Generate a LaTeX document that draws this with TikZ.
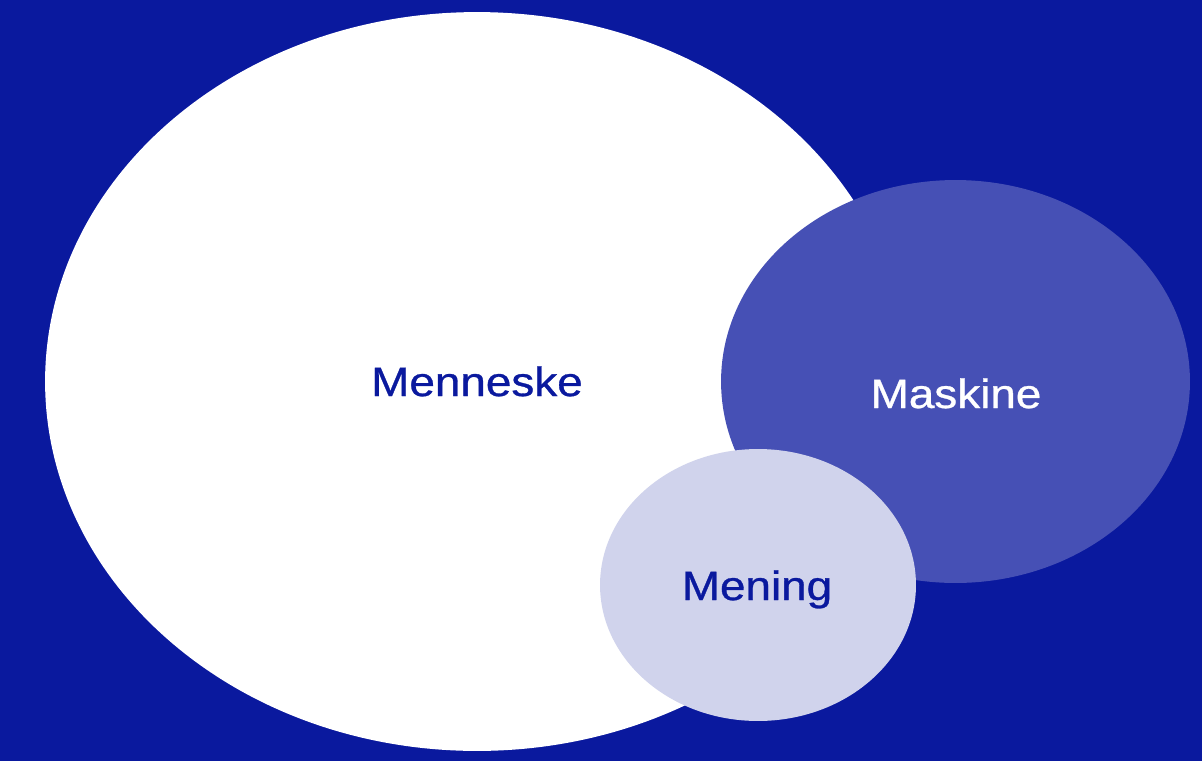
\documentclass[tikz,border=0pt]{standalone}
\usepackage{fontspec}
\setmainfont{Liberation Sans}
\newfontfamily\labelfont{Liberation Sans}[FakeBold=0.7]
\usetikzlibrary{shapes.geometric}
\definecolor{navy}{HTML}{0A199E}
\definecolor{midblue}{HTML}{4650B5}
\definecolor{paleblue}{HTML}{D0D3EC}
\newcommand{\wide}[1]{\scalebox{1.12}[1]{#1}}
\tikzset{%
  % Specifications for style of nodes:
            blob/.style = {ellipse, draw=none, inner sep=0pt, outer sep=0pt},
		humanstyle/.style = {blob, fill=white},
		machinestyle/.style = {blob, fill=midblue},
		meaningstyle/.style = {blob, fill=paleblue},
		word/.style = {anchor=base, inner sep=0pt,
                           font=\labelfont\fontsize{23.3}{27}\selectfont},
}
\begin{document}
\begin{tikzpicture}[x=0.02cm, y=-0.02cm]
  \useasboundingbox (0,0) rectangle (1202,761);
  \fill[navy] (0,0) rectangle (1202,761);
  % Specification of circles (position, size)
  \node (human)   [humanstyle, minimum width=17.28cm, minimum height=14.78cm]  at (477,381.5) {};
  \node (machine) [machinestyle, minimum width=9.38cm, minimum height=8.06cm]  at (955.5,381.5) {};
  \node (meaning) [meaningstyle, minimum width=6.32cm, minimum height=5.44cm]  at (758,585) {};
  % labels of the circles
  \node (humanlabel)   [word, text=navy]  at (477,396)  {\wide{Menneske}};
  \node (machinelabel) [word, text=white] at (956,408)  {\wide{Maskine}};
  \node (meaninglabel) [word, text=navy]  at (757,600)  {\wide{Mening}};
\end{tikzpicture}
\end{document}
